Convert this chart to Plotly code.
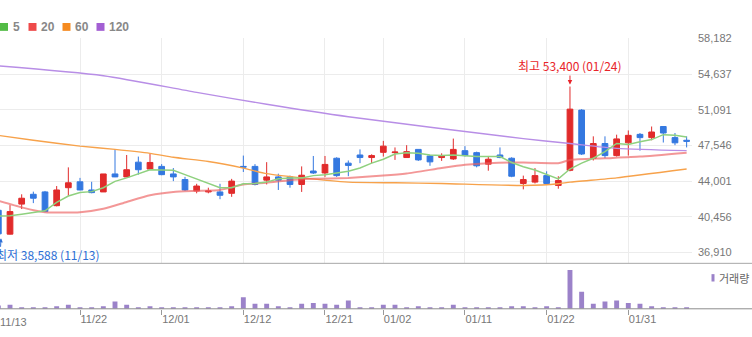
import plotly.graph_objects as go

# ---------------- data ----------------
dates = ["11/13","11/14","11/15","11/16","11/17","11/20","11/21","11/22","11/23","11/24",
         "11/27","11/28","11/29","11/30","12/01","12/04","12/05","12/06","12/07","12/08",
         "12/11","12/12","12/13","12/14","12/15","12/18","12/19","12/20","12/21","12/22",
         "12/26","12/27","12/28","01/02","01/03","01/04","01/05","01/08","01/09","01/10",
         "01/11","01/12","01/15","01/16","01/17","01/18","01/19","01/22","01/23","01/24",
         "01/25","01/26","01/29","01/30","01/31","02/01","02/02","02/05","02/06","02/07"]

open_ = [41106,38735,41720,42696,42930,41564,43350,43935,43125,42930,
         44716,44423,45887,45204,45467,44716,44160,43028,42930,42930,
         42794,45467,45467,44101,44423,44423,43672,45009,44813,46277,
         45790,46600,46346,46863,46834,46346,47156,46502,46346,46209,
         47029,46834,45692,46600,46277,43770,43906,44550,43574,45077,
         51059,46277,47741,46541,47809,48649,48326,49429,48326,48063]
high = [41250,41622,42696,42960,43028,43516,45370,44326,43935,44716,
        47185,46600,46443,46697,45692,45301,44423,43740,43350,43740,
        44228,46541,45692,45887,44745,44550,45467,46502,46502,46375,
        46053,47156,46668,48004,47351,47575,47156,46600,46766,48229,
        47478,46931,46502,47351,46375,44550,45301,44979,44491,53400,
        51156,48453,48453,48619,49039,48785,49429,49429,48785,48453]
low = [38588,38700,41232,41818,40910,41496,42540,43100,42794,42930,
       44400,44400,44647,45135,44589,44004,43028,42794,42794,42208,
       42442,44911,43574,43672,43125,43350,42930,44716,44423,44423,
       44491,45790,45790,46443,46112,46346,46014,45526,46014,46112,
       46443,45370,45038,46277,44394,43184,43770,43672,43252,44979,
       46600,46053,46277,46443,46541,47029,48063,47839,47575,47351]
close = [38764,40978,42305,42305,40978,43125,43838,43125,42862,44716,
         44423,45135,45135,45858,44647,44423,43125,43516,43028,42598,
         44004,45399,43672,44423,44101,43672,44589,44813,45663,44550,
         45565,46346,46541,47478,46892,46931,46112,45917,46541,47156,
         46541,45526,46180,46346,44491,44160,44550,43770,44062,51156,
         46697,47741,46541,48199,48551,48326,48883,48785,47809,47965]
volume = [330000,400000,170000,170000,170000,270000,400000,170000,170000,270000,
          730000,400000,170000,270000,170000,70000,170000,170000,70000,170000,
          270000,1170000,500000,500000,270000,170000,500000,600000,500000,400000,
          830000,170000,170000,400000,400000,170000,270000,170000,70000,400000,
          170000,170000,170000,170000,270000,270000,70000,270000,70000,3930000,
          1730000,500000,730000,830000,600000,500000,270000,170000,170000,170000]

ma5 = [40520,40569,40715,40861,41056,41886,42520,42862,42960,43350,
       43984,44326,44765,45135,45106,45077,44647,44228,43838,43350,
       43350,43740,43770,43906,44228,44326,44326,44550,44647,44813,
       44979,45301,45790,46180,46697,46834,46766,46600,46541,46600,
       46502,46443,46443,46443,45858,45429,45106,44647,44228,45204,
       45790,46277,46931,47741,47643,47907,48131,48619,48551,48395]

ma20_idx = [0, 2, 4, 7, 9, 11, 13, 15, 17, 19, 21, 23, 25, 27, 30, 33, 35, 38, 40, 42, 45, 48, 49, 52, 55, 59]
ma20 = [42052,41398,40910,40910,41252,41935,42598,42930,43028,43125,43672,43838,44101,44228,
        44326,44550,44765,45301,45623,45790,45858,45790,46112,46277,46443,46834]

ma60_idx = [0, 3, 7, 10, 13, 15, 18, 21, 23, 26, 30, 34, 38, 45, 48, 49, 53, 59]
ma60 = [48551,48063,47478,47156,46766,46375,45955,45301,44745,44326,43906,43838,43770,43574,
        43740,43906,44326,45204]

ma120_idx = [0, 9, 17, 23, 30, 45, 49, 53, 59]
ma120 = [55450,54474,52815,51644,50405,48229,47741,47253,47029]

price_ticks = [36910, 40456, 44001, 47546, 51091, 54637, 58182]
tick_idx = [0, 7, 14, 21, 28, 33, 40, 47, 54]
ma_names = ["5", "20", "60", "120"]
hi_label = "최고 53,400 (01/24)"
lo_label = "최저 38,588 (11/13)"
vol_name = "거래량"

# ---------------- figure ----------------
W, H = 752, 337
px_x = lambda p: p / W
px_y = lambda p: 1 - p / H
XDOM = [0, 692 / W]

RED = "#e12b2b"
BLUE = "#3478e0"

fig = go.Figure()
pick = lambda idx: [dates[i] for i in idx]

fig.add_trace(go.Scatter(x=pick(ma120_idx), y=ma120, mode="lines",
                         line=dict(color="#b88ee6", width=1.4, shape="spline", smoothing=0.7), hoverinfo="skip"))
fig.add_trace(go.Scatter(x=pick(ma60_idx), y=ma60, mode="lines",
                         line=dict(color="#f7a24b", width=1.4, shape="spline", smoothing=0.5), hoverinfo="skip"))
fig.add_trace(go.Scatter(x=pick(ma20_idx), y=ma20, mode="lines",
                         line=dict(color="rgba(236,95,95,0.65)", width=2, shape="spline", smoothing=0.5), hoverinfo="skip"))
fig.add_trace(go.Scatter(x=dates, y=ma5, mode="lines", line=dict(color="#8fd17f", width=1.5), hoverinfo="skip"))

fig.add_trace(go.Candlestick(
    x=dates, open=open_, high=high, low=low, close=close,
    increasing=dict(line=dict(color=RED, width=1), fillcolor=RED),
    decreasing=dict(line=dict(color=BLUE, width=1), fillcolor=BLUE),
    whiskerwidth=0, hoverinfo="skip"))

fig.add_trace(go.Bar(x=dates, y=volume, marker=dict(color="#9b82c9", line=dict(width=0)),
                     width=0.42, xaxis="x2", yaxis="y2", hoverinfo="skip"))

xr = [0.142, 59.46]
tickdates = [dates[i] for i in tick_idx]
fig.update_layout(
    width=W, height=H, margin=dict(l=0, r=0, t=0, b=0),
    paper_bgcolor="white", plot_bgcolor="white", showlegend=False,
    font=dict(family="Liberation Sans, Arial, sans-serif", size=11, color="#666"),
    xaxis=dict(domain=XDOM, type="category", categoryorder="array", categoryarray=dates,
               range=xr, tickvals=tickdates, showticklabels=False, ticks="",
               showgrid=True, gridcolor="#ececec", gridwidth=1, zeroline=False,
               rangeslider=dict(visible=False), anchor="y"),
    yaxis=dict(domain=[px_y(262), px_y(33)], range=[35836, 58182], side="right",
               tickvals=price_ticks, ticktext=[f"{v:,}" for v in price_ticks],
               showgrid=True, gridcolor="#ececec", gridwidth=1, zeroline=False,
               ticks="", ticklabelstandoff=5, tickfont=dict(size=11, color="#777"), anchor="x"),
    xaxis2=dict(domain=XDOM, type="category", categoryorder="array", categoryarray=dates,
                range=xr, tickvals=tickdates, ticktext=tickdates, showgrid=False,
                ticks="outside", ticklen=5, tickcolor="#999", ticklabelposition="outside right",
                tickfont=dict(size=11, color="#777"), zeroline=False, anchor="y2"),
    yaxis2=dict(domain=[px_y(308.3), px_y(263)], range=[0, 4500000], showgrid=False,
                showticklabels=False, ticks="", zeroline=False, anchor="x2"),
)

# panel lines
fig.add_shape(type="line", xref="paper", yref="paper", x0=0, x1=1, y0=px_y(262), y1=px_y(262),
              line=dict(color="#a8a8a8", width=1))
fig.add_shape(type="line", xref="paper", yref="paper", x0=0, x1=1, y0=px_y(308.3), y1=px_y(308.3),
              line=dict(color="#8c8c8c", width=1))

# first date label (its tick sits just left of the visible range)
fig.add_annotation(xref="paper", yref="paper", x=px_x(-2), y=px_y(322), text=dates[0],
                   showarrow=False, xanchor="left", yanchor="middle",
                   font=dict(size=11, color="#777"))

# MA legend
leg_colors = ["#52bb45", "#ee4a4a", "#f58a1f", "#a35fd3"]
leg_x = [0, 28.5, 62.5, 96.5]
for name, c, lx in zip(ma_names, leg_colors, leg_x):
    fig.add_shape(type="rect", xref="paper", yref="paper", x0=px_x(lx), x1=px_x(lx + 8),
                  y0=px_y(25.3), y1=px_y(17.3), fillcolor=c, line=dict(width=0))
    fig.add_annotation(xref="paper", yref="paper", x=px_x(lx + 10.5), y=px_y(21.3), text=f"<b>{name}</b>",
                       showarrow=False, xanchor="left", yanchor="middle",
                       font=dict(size=12, color="#888", family="Liberation Sans, Arial"))

# volume legend
fig.add_shape(type="rect", xref="paper", yref="paper", x0=px_x(711.5), x1=px_x(714.5),
              y0=px_y(280.5), y1=px_y(273), fillcolor="#9b82c9", line=dict(width=0))
fig.add_annotation(xref="paper", yref="paper", x=px_x(716.5), y=px_y(276.8), text=vol_name,
                   showarrow=False, xanchor="left", yanchor="middle",
                   font=dict(size=11, color="#666", family="Noto Sans CJK KR"))

# high / low annotations
hi_i = high.index(max(high))
fig.add_annotation(x=dates[hi_i], y=high[hi_i], xref="x", yref="y", text=hi_label,
                   showarrow=True, arrowhead=2, arrowsize=0.9, arrowwidth=1, arrowcolor="#e8242a",
                   ax=0, ay=-21, standoff=2,
                   font=dict(size=12, color="#e8242a", family="Noto Sans CJK KR"))
fig.add_annotation(xref="paper", yref="paper", x=px_x(-6), y=px_y(253.5), text=lo_label,
                   showarrow=False, xanchor="left", yanchor="middle",
                   font=dict(size=12, color="#2d6fd6", family="Noto Sans CJK KR"))
fig.add_annotation(xref="paper", yref="paper", x=px_x(0.5), y=px_y(236.5), text="",
                   showarrow=True, arrowhead=2, arrowsize=0.8, arrowwidth=1, arrowcolor="#2d6fd6",
                   ax=0, ay=10, axref="pixel", ayref="pixel")

fig.write_html("out.html")
